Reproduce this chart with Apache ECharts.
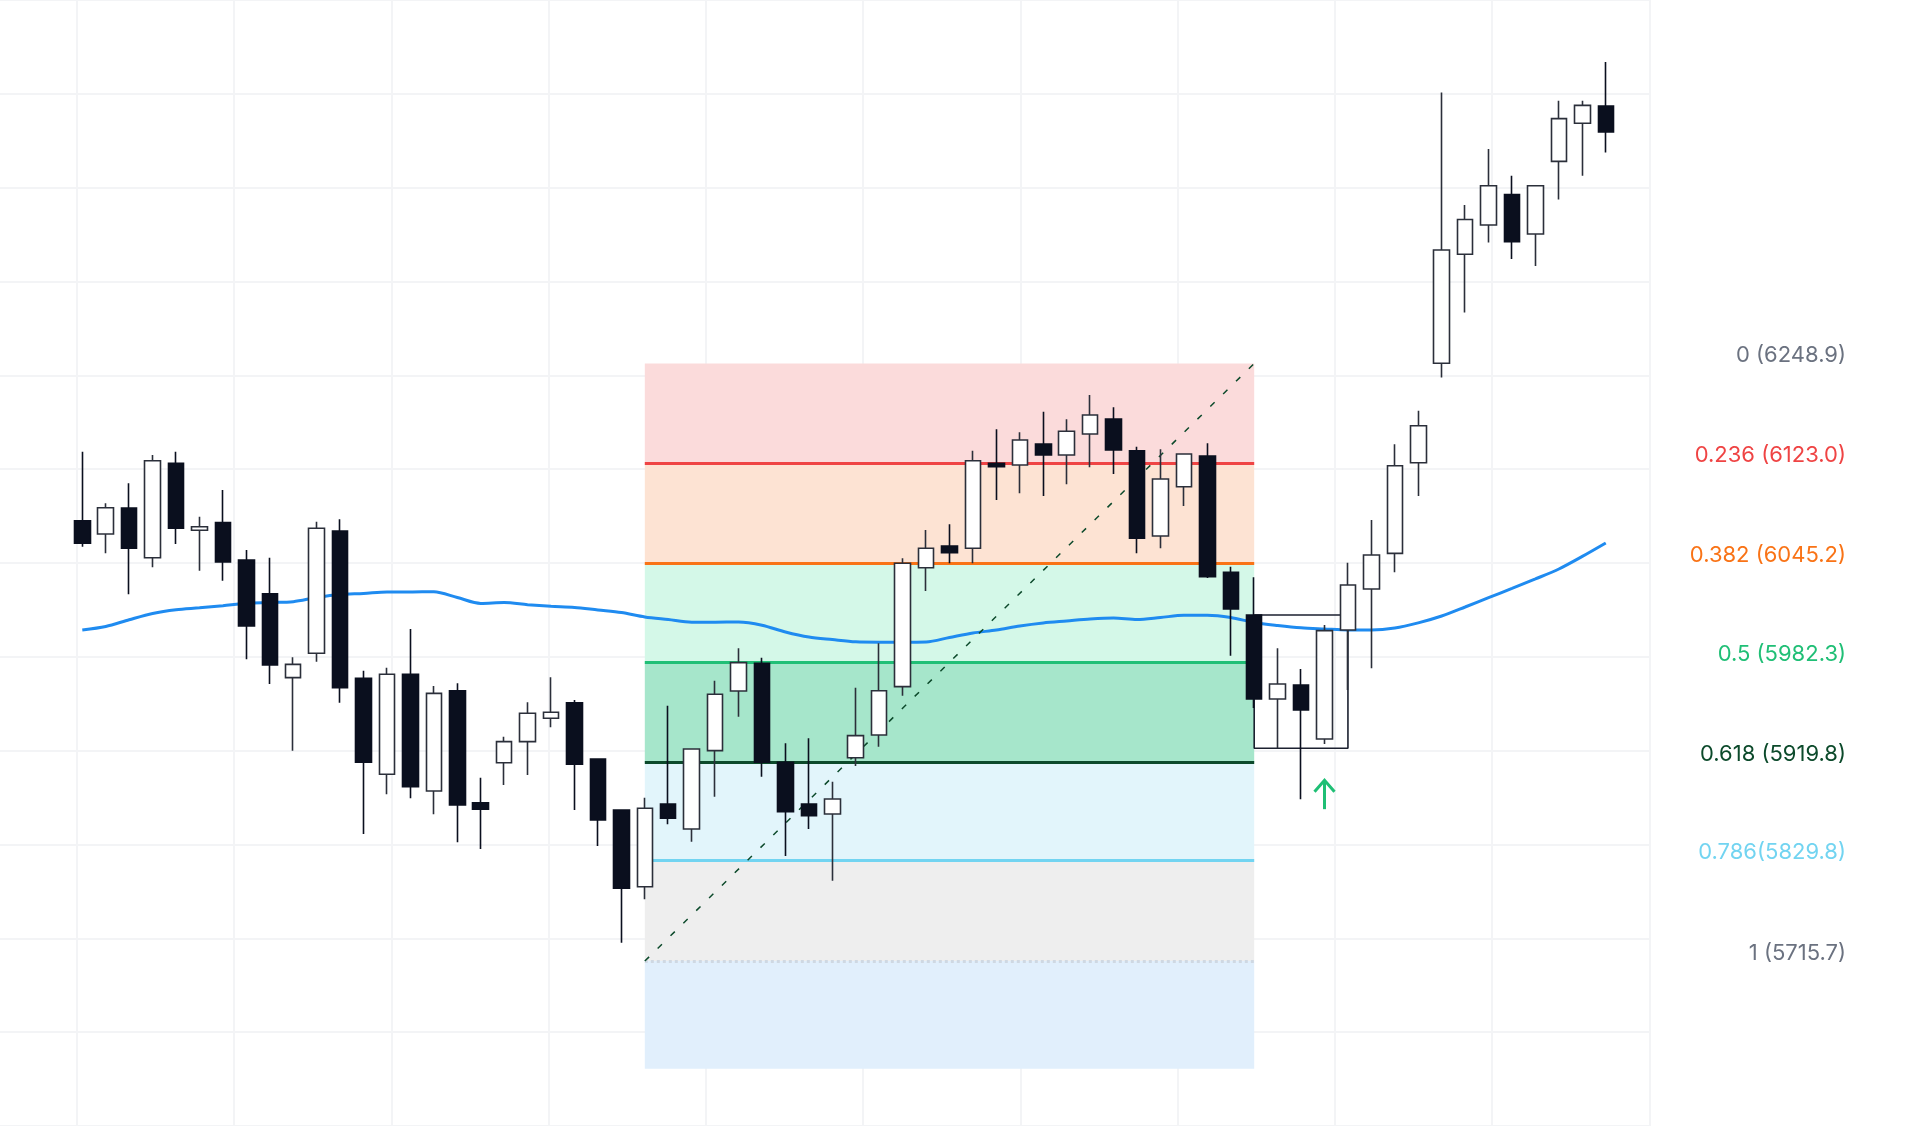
<!DOCTYPE html>
<html>
<head>
<meta charset="utf-8">
<script src="https://cdn.jsdelivr.net/npm/echarts/dist/echarts.min.js"></script>
<style>
html,body{margin:0;padding:0;background:#ffffff;}
#chart{width:1920px;height:1126px;}
</style>
</head>
<body>
<div id="chart"></div>
<script>
// ---- data ----
const categories = ['1','2','3','4','5','6','7','8','9','10','11','12','13','14','15','16','17','18','19','20',
  '21','22','23','24','25','26','27','28','29','30','31','32','33','34','35','36','37','38','39','40',
  '41','42','43','44','45','46','47','48','49','50','51','52','53','54','55','56','57','58','59','60',
  '61','62','63','64','65','66'];

const opens = [6145.1,6130.9,6158.6,6105.6,6206.3,6134.9,6143.0,6103.2,6067.3,5977.8,
  6003.8,6134.1,5977.1,5874.8,5981.4,5857.0,5963.9,5844.5,5887.2,5909.6,
  5934.5,5951.1,5891.1,5836.8,5755.0,5843.2,5816.5,5900.0,5963.6,5993.1,
  5887.6,5843.2,5832.5,5892.5,5916.7,5968.2,6095.0,6118.1,6115.7,6206.3,
  6204.4,6226.8,6215.1,6237.5,6253.5,6219.7,6128.8,6181.3,6214.0,6090.1,
  6044.6,5955.1,5970.0,5912.4,6028.6,6072.3,6110.3,6206.9,6312.9,6429.0,
  6460.2,6492.6,6450.6,6528.0,6568.7,6587.0];
const highs = [6218.6,6163.6,6184.9,6215.1,6218.6,6149.3,6177.8,6113.9,6105.6,5999.5,
  6144.0,6146.6,5985.2,5988.4,6029.7,5968.9,5971.8,5871.2,5914.9,5951.5,
  5978.2,5954.0,5891.1,5836.8,5849.9,5947.9,5901.8,5974.6,6009.1,5999.1,
  5907.9,5913.2,5866.9,5967.1,6014.4,6105.0,6135.2,6141.2,6219.7,6242.5,
  6239.3,6261.2,6253.1,6279.0,6265.9,6223.9,6221.2,6216.2,6227.6,6096.1,
  6084.8,6009.1,5987.0,6033.9,6100.3,6145.8,6226.5,6262.3,6601.4,6481.5,
  6541.2,6512.8,6502.1,6592.7,6592.7,6633.8];
const lows = [6117.4,6110.3,6066.6,6095.4,6120.3,6091.8,6081.1,5997.4,5971.0,5900.0,
  5994.8,5951.1,5811.2,5853.5,5849.2,5832.2,5802.3,5795.2,5863.4,5874.1,
  5924.9,5836.8,5798.4,5695.3,5741.6,5821.5,5803.0,5850.9,5936.2,5872.3,
  5787.7,5816.5,5761.4,5883.7,5904.2,5958.6,6070.2,6099.7,6099.7,6167.1,
  6174.3,6171.4,6183.9,6202.0,6194.9,6110.3,6115.7,6160.7,6084.0,6001.2,
  5945.5,5902.5,5848.2,5907.1,5964.7,5987.8,6090.1,6171.4,6297.7,6367.0,
  6441.6,6424.0,6416.5,6487.3,6512.8,6537.5];
const closes = [6121.0,6158.9,6115.7,6209.0,6137.0,6138.7,6101.1,6032.9,5991.3,5992.0,
  6137.0,5967.1,5887.6,5981.4,5861.6,5961.1,5842.1,5837.5,5909.6,5939.8,
  5940.9,5885.5,5826.1,5753.3,5838.6,5827.9,5901.8,5960.1,5993.8,5887.6,
  5835.0,5830.7,5848.5,5916.0,5963.9,6099.7,6115.7,6111.0,6209.0,6202.6,
  6231.1,6215.1,6240.4,6257.7,6220.4,6126.3,6189.5,6216.2,6085.4,6051.0,
  5955.1,5971.0,5943.3,6027.9,6076.6,6108.5,6203.7,6246.3,6433.6,6466.0,
  6502.1,6442.3,6502.1,6573.6,6587.7,6559.5];

const movingAverage = [6028.6,6032.3,6039.5,6046.2,6050.2,6052.2,6054.5,6057.1,6057.9,6058.8,
  6063.3,6066.5,6067.5,6069.1,6069.1,6069.4,6063.2,6056.9,6057.8,6055.6,
  6053.9,6052.7,6049.9,6047.2,6042.5,6039.7,6036.9,6036.9,6037.1,6033.7,
  6026.5,6021.1,6018.4,6016.0,6015.6,6015.6,6015.8,6020.6,6025.4,6028.6,
  6032.9,6036.1,6038.2,6040.3,6041.4,6039.8,6041.9,6044.3,6044.3,6041.9,
  6036.6,6033.4,6030.9,6029.7,6028.6,6028.6,6030.7,6036.2,6043.5,6053.1,
  6063.1,6072.9,6083.0,6093.6,6107.0,6121.3];

// Fibonacci retracement drawing
const fibRatios = [0, 0.236, 0.382, 0.5, 0.618, 0.786, 1];
const fibPrices = [6248.9, 6123.0, 6045.2, 5982.3, 5919.8, 5829.8, 5715.7];
const fibLabels = ['0 (6248.9)', '0.236 (6123.0)', '0.382 (6045.2)', '0.5 (5982.3)', '0.618 (5919.8)', '0.786(5829.8)', '1 (5715.7)'];
const fibDrawLevels = [6312.6, 6205.8, 6099.7, 5994.0, 5887.5, 5782.7, 5675.8]; // where each level is drawn on the axis
const fibExtensionBottom = 5561.1;
const fibStartIndex = 24;  // candle where the tool starts
const fibEndIndex = 50;    // candle where the tool ends

// Highlighted consolidation box and signal arrow
const boxStartIndex = 50;
const boxEndIndex = 54;
const boxTop = 6044.6;
const boxBottom = 5902.5;
const arrowIndex = 53;
const arrowValue = 5853.1;

// ---- styles ----
const bandColors = ['#fbdbdb', '#fde3d3', '#d4f8e8', '#a6e6cb', '#e2f5fb', '#eeeeee', '#e1effc'];
const lineColors = [null, '#ef4444', '#f97316', '#20bf76', '#0c4a2b', '#72d4f1', '#cfd8e2'];
const labelColors = ['#6b7280', '#ef4444', '#f97316', '#20bf76', '#0c4a2b', '#72d4f1', '#6b7280'];

const candleData = opens.map((o, i) => [o, closes[i], lows[i], highs[i]]);

const bandEdges = fibDrawLevels.concat([fibExtensionBottom]);
const bandAreas = [];
for (let i = 0; i < bandEdges.length - 1; i++) {
  bandAreas.push([
    { coord: [categories[fibStartIndex], bandEdges[i]], itemStyle: { color: bandColors[i] } },
    { coord: [categories[fibEndIndex], bandEdges[i + 1]] }
  ]);
}
const fibLines = [];
for (let i = 0; i < fibDrawLevels.length; i++) {
  if (!lineColors[i]) continue;
  fibLines.push([
    { coord: [categories[fibStartIndex], fibDrawLevels[i]],
      lineStyle: { color: lineColors[i], width: i === 6 ? 3 : 2.8, type: i === 6 ? 'dotted' : 'solid' } },
    { coord: [categories[fibEndIndex], fibDrawLevels[i]] }
  ]);
}
fibLines.push([
  { coord: [categories[fibStartIndex], fibDrawLevels[6]], lineStyle: { color: '#0c4a2b', width: 1.5, type: [6, 12] } },
  { coord: [categories[fibEndIndex], fibDrawLevels[0]] }
]);

const boxPath = [
  [categories[boxStartIndex], boxTop],
  [categories[boxEndIndex], boxTop],
  [categories[boxEndIndex], boxBottom],
  [categories[boxStartIndex], boxBottom],
  [categories[boxStartIndex], boxTop]
];

const emptySeries = categories.map(() => null);
const gridColor = '#f3f4f6';

const chart = echarts.init(document.getElementById('chart'), null, { renderer: 'canvas' });

const option = {
  animation: false,
  backgroundColor: '#ffffff',
  grid: [
    { left: 0, top: 0, width: 1650, height: 1126 },
    { left: 77, top: 0, width: 1572.4, height: 1126 },
    { left: 70.58, top: 0, width: 1546.9, height: 1126 }
  ],
  xAxis: [
    { gridIndex: 0, type: 'value', min: 0, max: 1, show: false },
    { gridIndex: 1, type: 'value', min: 0, max: 10, interval: 1,
      axisLine: { show: false }, axisTick: { show: false }, axisLabel: { show: false },
      splitLine: { show: true, lineStyle: { color: gridColor, width: 2 } } },
    { gridIndex: 2, type: 'category', data: categories, boundaryGap: true, show: false }
  ],
  yAxis: [
    { gridIndex: 0, type: 'value', min: 5500, max: 6700, interval: 100,
      axisLine: { show: false }, axisTick: { show: false }, axisLabel: { show: false },
      splitLine: { show: true, lineStyle: { color: gridColor, width: 2 } } },
    { gridIndex: 1, type: 'value', min: 5500, max: 6700, show: false, splitLine: { show: false } },
    { gridIndex: 2, type: 'value', min: 5500, max: 6700, show: false, splitLine: { show: false } }
  ],
  series: [
    {
      name: 'fibBands', type: 'line', xAxisIndex: 2, yAxisIndex: 2, data: emptySeries,
      symbol: 'none', silent: true, z: 1,
      markArea: { silent: true, data: bandAreas }
    },
    {
      name: 'fibLines', type: 'line', xAxisIndex: 2, yAxisIndex: 2, data: emptySeries,
      symbol: 'none', silent: true, z: 2,
      markLine: { silent: true, symbol: ['none', 'none'], label: { show: false }, data: fibLines }
    },
    {
      name: 'MA', type: 'line', xAxisIndex: 2, yAxisIndex: 2, data: movingAverage,
      symbol: 'none', smooth: 0.3, z: 3,
      lineStyle: { color: '#1f8bf0', width: 3 }
    },
    {
      name: 'box', type: 'line', xAxisIndex: 2, yAxisIndex: 2, data: boxPath,
      symbol: 'none', z: 3,
      lineStyle: { color: '#1c2130', width: 1.6 }
    },
    {
      name: 'price', type: 'candlestick', xAxisIndex: 2, yAxisIndex: 2, data: candleData,
      barWidth: 16, z: 5,
      itemStyle: { color: '#ffffff', color0: '#0a0f1e', borderColor: '#2b2f3a', borderColor0: '#0a0f1e', borderWidth: 1.6 }
    },
    {
      name: 'signal', type: 'custom', xAxisIndex: 2, yAxisIndex: 2, z: 6,
      data: [[categories[arrowIndex], arrowValue]],
      renderItem: function (params, api) {
        const p = api.coord([api.value(0), api.value(1)]);
        const c = '#1fbf75';
        return {
          type: 'group',
          children: [
            { type: 'polyline', shape: { points: [[p[0] - 10, p[1] - 3], [p[0], p[1] - 14.5], [p[0] + 10, p[1] - 3]] },
              style: { stroke: c, lineWidth: 3, fill: null } },
            { type: 'line', shape: { x1: p[0], y1: p[1] - 14.5, x2: p[0], y2: p[1] + 14.5 },
              style: { stroke: c, lineWidth: 3 } }
          ]
        };
      }
    }
  ]
};
chart.setOption(option);

const labelGraphics = fibLabels.map((t, i) => {
  const y = chart.convertToPixel({ yAxisIndex: 2 }, fibDrawLevels[i]);
  return {
    type: 'text', x: 1846, y: y - 8, silent: true,
    style: { text: t, fill: labelColors[i], font: '400 22px Inter, "Noto Sans", sans-serif',
      textAlign: 'right', textVerticalAlign: 'middle' }
  };
});
chart.setOption({ graphic: labelGraphics });
</script>
</body>
</html>
